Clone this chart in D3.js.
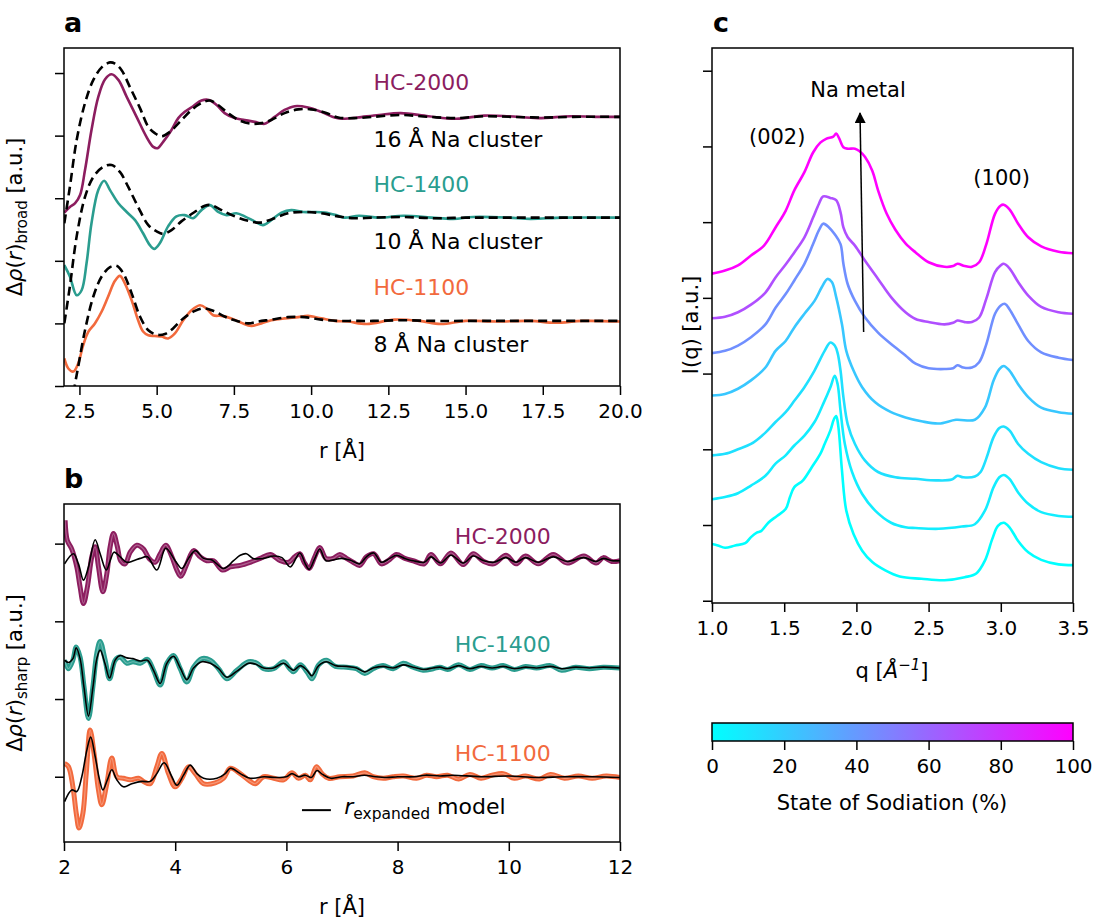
<!DOCTYPE html>
<html>
<head>
<meta charset="utf-8">
<script src="https://cdn.jsdelivr.net/npm/d3@7"></script>
<style>
  body { margin: 0; background: #fff; }
  svg { font-family: "DejaVu Sans", sans-serif; }
</style>
</head>
<body>
<svg id="fig" width="1095" height="919"></svg>
<script>
'use strict';

// colours of the three carbons
var purple = '#8c1d5f';
var teal = '#2a9d8f';
var orange = '#f26a3d';

// ---------- panel a : broad component ----------
var aXTicks = [2.5, 5, 7.5, 10, 12.5, 15, 17.5, 20];
var aYTicks = [0, 1, 2, 3, 4, 5];

var hc2000Broad = [[2.01,2.77],[2.19,2.86],[2.36,2.92],[2.52,3.05],[2.68,3.45],[2.89,4.09],[3.11,4.62],[3.33,4.90],[3.54,4.98],[3.76,4.89],[4.03,4.62],[4.35,4.30],[4.67,3.98],[4.89,3.82],[5.03,3.80],[5.21,3.90],[5.48,4.09],[5.70,4.28],[5.91,4.38],[6.18,4.47],[6.45,4.56],[6.69,4.57],[6.94,4.49],[7.20,4.36],[7.53,4.28],[7.85,4.25],[8.17,4.22],[8.50,4.19],[8.82,4.30],[9.14,4.41],[9.47,4.47],[9.90,4.45],[10.33,4.38],[10.76,4.29],[11.08,4.27],[11.5,4.29],[12.2,4.33],[12.9,4.36],[13.8,4.31],[14.7,4.27],[15.6,4.32],[16.4,4.31],[17.35,4.28],[18.4,4.31],[19.2,4.30],[20,4.30]];
var na16 = [[2.01,2.60],[2.19,3.18],[2.41,3.93],[2.68,4.52],[2.95,4.89],[3.22,5.09],[3.49,5.17],[3.65,5.15],[3.86,5.05],[4.13,4.78],[4.46,4.44],[4.73,4.14],[4.94,4.04],[5.16,3.99],[5.43,4.06],[5.75,4.22],[6.13,4.41],[6.45,4.52],[6.72,4.56],[6.99,4.49],[7.31,4.36],[7.69,4.24],[8.07,4.19],[8.39,4.20],[8.71,4.25],[9.14,4.36],[9.58,4.42],[10.0,4.42],[10.44,4.37],[10.87,4.29],[11.4,4.28],[12.0,4.30],[12.9,4.33],[13.8,4.30],[14.7,4.28],[15.6,4.31],[16.5,4.30],[17.5,4.29],[18.5,4.30],[20,4.30]];

var hc1400Broad = [[2.01,1.93],[2.19,1.75],[2.41,1.45],[2.57,1.53],[2.73,1.96],[2.89,2.60],[3.11,3.13],[3.30,3.28],[3.49,3.13],[3.76,2.92],[4.03,2.78],[4.30,2.65],[4.56,2.44],[4.78,2.25],[4.92,2.19],[5.10,2.28],[5.37,2.55],[5.64,2.71],[5.91,2.73],[6.18,2.68],[6.45,2.81],[6.72,2.89],[6.99,2.78],[7.26,2.73],[7.58,2.76],[7.85,2.71],[8.17,2.63],[8.44,2.57],[8.71,2.65],[9.04,2.77],[9.36,2.81],[9.74,2.78],[10.11,2.78],[10.44,2.77],[10.81,2.73],[11.08,2.69],[11.55,2.72],[12.2,2.69],[13.0,2.72],[13.9,2.69],[14.6,2.67],[15.25,2.70],[16.4,2.69],[17.1,2.67],[18.15,2.69],[20,2.69]];
var na10 = [[2.01,1.00],[2.19,1.59],[2.41,2.39],[2.68,3.02],[2.95,3.34],[3.27,3.50],[3.54,3.53],[3.81,3.42],[4.08,3.18],[4.40,2.86],[4.73,2.57],[5.00,2.47],[5.21,2.43],[5.48,2.49],[5.80,2.63],[6.23,2.78],[6.56,2.88],[6.77,2.89],[7.10,2.81],[7.53,2.71],[7.96,2.64],[8.34,2.61],[8.71,2.66],[9.25,2.76],[9.79,2.78],[10.33,2.76],[10.87,2.71],[11.4,2.68],[12,2.69],[13,2.70],[14,2.68],[15,2.69],[16,2.69],[20,2.69]];

var hc1100Broad = [[2.01,0.44],[2.14,0.28],[2.30,0.23],[2.46,0.36],[2.62,0.65],[2.79,0.87],[3.00,1.00],[3.22,1.19],[3.43,1.43],[3.65,1.68],[3.81,1.76],[3.97,1.64],[4.19,1.37],[4.40,1.05],[4.56,0.87],[4.73,0.81],[4.94,0.80],[5.16,0.79],[5.37,0.76],[5.59,0.84],[5.86,1.05],[6.13,1.21],[6.40,1.29],[6.61,1.24],[6.83,1.13],[7.10,1.12],[7.42,1.08],[7.74,1.01],[8.07,0.96],[8.39,1.00],[8.71,1.05],[9.14,1.08],[9.58,1.10],[9.90,1.12],[10.33,1.08],[10.76,1.04],[11.19,1.03],[11.8,0.99],[12.7,1.06],[13.5,1.04],[14.2,0.99],[15.0,1.04],[16.0,1.03],[17.1,1.04],[17.9,1.01],[18.8,1.04],[20,1.03]];
var na8 = [[2.0,-1.0],[2.2,-0.45],[2.36,0.04],[2.46,0.31],[2.68,0.89],[2.95,1.43],[3.22,1.75],[3.49,1.90],[3.70,1.92],[3.92,1.80],[4.19,1.48],[4.46,1.11],[4.73,0.89],[5.00,0.82],[5.27,0.83],[5.53,0.92],[5.86,1.08],[6.24,1.20],[6.56,1.24],[6.88,1.19],[7.20,1.11],[7.53,1.05],[7.96,1.00],[8.28,1.03],[8.71,1.06],[9.25,1.10],[9.79,1.10],[10.33,1.06],[10.87,1.04],[11.4,1.04],[12,1.04],[13,1.05],[14,1.04],[15,1.04],[20,1.04]];

// ---------- panel b : sharp component ----------
var bXTicks = [2, 4, 6, 8, 10, 12];
var bYTicks = [0, 1, 2, 3];

var hc2000Sharp = [[2.02,3.30],[2.06,3.04],[2.14,2.93],[2.23,2.70],[2.29,2.44],[2.35,2.23],[2.42,2.44],[2.50,2.83],[2.56,2.96],[2.62,2.70],[2.70,2.38],[2.77,2.61],[2.83,2.96],[2.89,3.13],[2.96,2.96],[3.02,2.78],[3.10,2.74],[3.19,2.89],[3.31,2.98],[3.43,2.93],[3.53,2.81],[3.64,2.76],[3.73,2.87],[3.83,2.98],[3.94,2.83],[4.03,2.66],[4.10,2.58],[4.21,2.74],[4.33,2.91],[4.45,2.83],[4.57,2.78],[4.69,2.78],[4.85,2.66],[4.99,2.70],[5.17,2.72],[5.35,2.76],[5.53,2.81],[5.71,2.86],[5.89,2.78],[6.04,2.76],[6.15,2.83],[6.24,2.87],[6.32,2.76],[6.41,2.68],[6.51,2.83],[6.60,2.95],[6.71,2.81],[6.84,2.81],[6.96,2.86],[7.08,2.81],[7.20,2.76],[7.32,2.72],[7.44,2.83],[7.57,2.87],[7.71,2.74],[7.83,2.78],[7.98,2.86],[8.13,2.81],[8.28,2.78],[8.48,2.74],[8.60,2.86],[8.77,2.74],[8.96,2.88],[9.18,2.73],[9.36,2.87],[9.55,2.77],[9.73,2.74],[9.95,2.85],[10.13,2.74],[10.30,2.84],[10.53,2.74],[10.80,2.86],[11.05,2.75],[11.35,2.84],[11.57,2.75],[11.70,2.82],[11.85,2.77],[12.0,2.78]];
var hc2000Model = [[2.01,2.74],[2.17,2.87],[2.26,2.74],[2.35,2.53],[2.44,2.70],[2.56,3.05],[2.65,2.87],[2.76,2.66],[2.83,2.78],[2.90,2.89],[3.01,2.83],[3.13,2.76],[3.25,2.78],[3.37,2.81],[3.50,2.83],[3.67,2.66],[3.83,2.94],[4.00,2.78],[4.12,2.68],[4.24,2.81],[4.36,2.91],[4.51,2.81],[4.66,2.79],[4.87,2.68],[5.05,2.78],[5.17,2.85],[5.28,2.87],[5.40,2.81],[5.59,2.81],[5.77,2.84],[5.92,2.82],[6.07,2.70],[6.24,2.88],[6.34,2.74],[6.41,2.67],[6.51,2.81],[6.60,2.93],[6.71,2.78],[6.84,2.79],[6.99,2.81],[7.14,2.79],[7.32,2.74],[7.44,2.83],[7.57,2.88],[7.71,2.76],[7.86,2.81],[7.98,2.85],[8.13,2.81],[8.28,2.78],[8.48,2.76],[8.60,2.83],[8.77,2.75],[8.96,2.85],[9.18,2.75],[9.36,2.84],[9.55,2.78],[9.73,2.76],[9.95,2.82],[10.13,2.76],[10.30,2.82],[10.53,2.76],[10.80,2.83],[11.05,2.77],[11.35,2.82],[11.57,2.77],[11.70,2.81],[11.85,2.78],[12.0,2.78]];

var hc1400Sharp = [[2.01,1.50],[2.08,1.39],[2.16,1.50],[2.22,1.67],[2.29,1.54],[2.36,1.16],[2.44,0.75],[2.52,1.16],[2.59,1.59],[2.65,1.74],[2.74,1.50],[2.82,1.26],[2.92,1.50],[3.01,1.54],[3.13,1.46],[3.24,1.48],[3.37,1.46],[3.50,1.51],[3.61,1.37],[3.73,1.18],[3.85,1.46],[3.97,1.56],[4.09,1.39],[4.21,1.22],[4.33,1.41],[4.48,1.52],[4.63,1.50],[4.78,1.39],[4.93,1.26],[5.11,1.37],[5.32,1.48],[5.47,1.46],[5.59,1.39],[5.77,1.39],[5.95,1.48],[6.06,1.39],[6.13,1.35],[6.25,1.44],[6.37,1.35],[6.46,1.26],[6.58,1.44],[6.72,1.50],[6.88,1.42],[7.08,1.41],[7.26,1.39],[7.41,1.33],[7.56,1.39],[7.74,1.43],[7.92,1.39],[8.10,1.46],[8.28,1.41],[8.46,1.37],[8.64,1.39],[8.76,1.41],[8.90,1.38],[9.10,1.44],[9.30,1.38],[9.50,1.43],[9.70,1.40],[9.90,1.43],[10.10,1.38],[10.30,1.42],[10.50,1.40],[10.75,1.43],[10.95,1.37],[11.20,1.41],[11.45,1.39],[11.70,1.41],[12.0,1.40]];
var hc1400Model = [[2.01,1.50],[2.08,1.47],[2.16,1.52],[2.22,1.66],[2.29,1.52],[2.36,1.15],[2.44,0.78],[2.52,1.15],[2.59,1.52],[2.65,1.63],[2.74,1.45],[2.82,1.27],[2.92,1.50],[3.01,1.56],[3.13,1.53],[3.24,1.52],[3.37,1.49],[3.50,1.50],[3.61,1.37],[3.73,1.20],[3.85,1.46],[3.97,1.55],[4.09,1.40],[4.21,1.25],[4.33,1.40],[4.48,1.48],[4.63,1.46],[4.78,1.39],[4.93,1.28],[5.11,1.36],[5.32,1.46],[5.44,1.45],[5.59,1.40],[5.77,1.40],[5.95,1.46],[6.06,1.40],[6.13,1.37],[6.25,1.43],[6.37,1.37],[6.46,1.30],[6.58,1.43],[6.72,1.48],[6.88,1.43],[7.08,1.42],[7.26,1.40],[7.41,1.35],[7.56,1.40],[7.74,1.42],[7.92,1.40],[8.10,1.44],[8.28,1.41],[8.46,1.38],[8.64,1.40],[8.76,1.41],[8.90,1.39],[9.10,1.43],[9.30,1.39],[9.50,1.42],[9.70,1.40],[9.90,1.42],[10.10,1.39],[10.30,1.41],[10.50,1.40],[10.75,1.42],[10.95,1.39],[11.20,1.41],[11.45,1.40],[11.70,1.41],[12.0,1.40]];

var hc1100Sharp = [[2.01,0.17],[2.08,0.13],[2.16,-0.13],[2.22,-0.47],[2.27,-0.66],[2.34,-0.47],[2.40,0.04],[2.47,0.60],[2.54,0.30],[2.62,-0.17],[2.68,-0.36],[2.77,-0.09],[2.86,0.24],[2.95,0.00],[3.07,-0.02],[3.19,-0.04],[3.34,-0.02],[3.43,-0.06],[3.55,-0.09],[3.67,0.13],[3.76,0.30],[3.88,0.04],[4.00,-0.13],[4.12,-0.02],[4.24,0.13],[4.36,0.04],[4.51,-0.09],[4.72,-0.08],[4.87,-0.02],[4.99,0.11],[5.17,0.04],[5.35,-0.06],[5.44,-0.09],[5.59,0.00],[5.77,-0.02],[5.95,-0.04],[6.10,0.05],[6.22,-0.02],[6.34,0.02],[6.43,-0.04],[6.54,0.13],[6.64,0.04],[6.76,-0.02],[6.96,0.00],[7.20,0.01],[7.41,0.05],[7.56,0.00],[7.74,-0.02],[7.92,0.00],[8.10,0.01],[8.34,-0.02],[8.52,0.02],[8.70,0.00],[8.90,0.02],[9.10,-0.03],[9.30,0.03],[9.50,-0.02],[9.70,0.02],[9.90,0.04],[10.10,-0.02],[10.30,0.01],[10.55,-0.03],[10.75,0.03],[11.00,-0.02],[11.25,0.01],[11.50,-0.02],[11.75,0.01],[12.0,-0.01]];
var hc1100Model = [[2.01,-0.32],[2.14,-0.17],[2.23,-0.19],[2.32,0.00],[2.41,0.34],[2.48,0.51],[2.56,0.26],[2.64,-0.04],[2.70,-0.17],[2.78,-0.04],[2.86,0.09],[2.95,-0.04],[3.07,-0.13],[3.22,-0.09],[3.40,-0.06],[3.55,-0.06],[3.67,0.04],[3.80,0.18],[3.94,0.00],[4.03,-0.11],[4.15,0.02],[4.27,0.15],[4.39,0.04],[4.51,-0.02],[4.75,-0.02],[4.90,0.04],[4.99,0.11],[5.17,0.04],[5.35,-0.02],[5.60,0.00],[5.80,-0.01],[6.00,0.00],[6.10,0.04],[6.22,0.00],[6.34,0.02],[6.45,-0.01],[6.55,0.08],[6.65,0.03],[6.80,-0.02],[7.00,0.00],[7.20,0.00],[7.40,0.02],[7.60,0.00],[7.80,-0.01],[8.00,0.00],[8.30,0.00],[8.50,0.02],[8.76,0.01],[9.00,0.02],[9.50,0.00],[10.0,0.01],[10.5,-0.01],[11.0,0.00],[11.5,0.00],[12.0,-0.01]];

// ---------- panel c : I(q) during sodiation ----------
var cXTicks = [1.0, 1.5, 2.0, 2.5, 3.0, 3.5];
var cYTicks = [0, 1, 2, 3, 4, 5, 6, 7];
var sodLevels = [0, 7, 12, 22, 44, 69, 100];
var cbTicks = [0, 20, 40, 60, 80, 100];

var iq0 = [[1.0,0.75],[1.04,0.73],[1.09,0.70],[1.16,0.73],[1.23,0.76],[1.27,0.84],[1.31,0.90],[1.34,0.92],[1.39,1.03],[1.45,1.12],[1.51,1.21],[1.54,1.37],[1.57,1.50],[1.63,1.59],[1.69,1.76],[1.75,1.94],[1.78,2.07],[1.82,2.25],[1.845,2.40],[1.86,2.44],[1.875,2.30],[1.90,1.72],[1.93,1.19],[1.98,0.88],[2.04,0.66],[2.11,0.51],[2.20,0.40],[2.30,0.32],[2.45,0.29],[2.61,0.27],[2.75,0.31],[2.83,0.36],[2.89,0.53],[2.94,0.81],[2.98,0.99],[3.02,1.03],[3.06,0.97],[3.12,0.79],[3.19,0.64],[3.28,0.54],[3.40,0.48],[3.50,0.47]];
var iq1 = [[1.0,1.34],[1.09,1.37],[1.18,1.42],[1.27,1.52],[1.37,1.65],[1.44,1.81],[1.51,1.92],[1.57,2.05],[1.64,2.18],[1.71,2.36],[1.77,2.60],[1.82,2.82],[1.85,2.97],[1.87,2.86],[1.89,2.51],[1.92,2.07],[1.97,1.70],[2.04,1.41],[2.13,1.19],[2.24,1.03],[2.34,0.97],[2.41,0.96],[2.57,0.95],[2.73,0.98],[2.82,1.01],[2.89,1.19],[2.95,1.50],[2.99,1.63],[3.02,1.66],[3.06,1.61],[3.12,1.43],[3.19,1.28],[3.28,1.17],[3.40,1.12],[3.50,1.11]];
var iq2 = [[1.0,1.92],[1.09,1.94],[1.18,2.00],[1.27,2.07],[1.37,2.22],[1.44,2.36],[1.51,2.49],[1.57,2.64],[1.64,2.82],[1.71,3.04],[1.78,3.30],[1.82,3.41],[1.85,3.37],[1.87,3.27],[1.89,3.04],[1.91,2.69],[1.94,2.33],[1.99,2.07],[2.06,1.85],[2.15,1.70],[2.27,1.63],[2.41,1.61],[2.55,1.59],[2.66,1.60],[2.70,1.65],[2.74,1.63],[2.82,1.64],[2.86,1.70],[2.90,1.88],[2.95,2.16],[2.99,2.28],[3.02,2.30],[3.06,2.25],[3.12,2.07],[3.19,1.94],[3.28,1.83],[3.40,1.75],[3.50,1.73]];
var iq3 = [[1.0,2.71],[1.09,2.73],[1.18,2.80],[1.27,2.91],[1.37,3.08],[1.44,3.30],[1.51,3.43],[1.57,3.61],[1.64,3.79],[1.71,3.96],[1.76,4.14],[1.80,4.25],[1.83,4.21],[1.86,4.01],[1.90,3.65],[1.93,3.30],[1.98,3.04],[2.04,2.82],[2.13,2.62],[2.24,2.49],[2.34,2.42],[2.45,2.37],[2.57,2.34],[2.69,2.39],[2.82,2.39],[2.89,2.55],[2.95,2.91],[2.99,3.06],[3.02,3.10],[3.06,3.04],[3.12,2.86],[3.19,2.69],[3.28,2.55],[3.40,2.49],[3.50,2.47]];
var iq4 = [[1.0,3.27],[1.09,3.30],[1.18,3.37],[1.27,3.48],[1.37,3.65],[1.44,3.87],[1.51,4.05],[1.57,4.23],[1.64,4.45],[1.70,4.71],[1.74,4.89],[1.77,4.98],[1.81,4.93],[1.85,4.84],[1.89,4.71],[1.91,4.45],[1.94,4.18],[1.99,3.96],[2.06,3.74],[2.15,3.54],[2.24,3.39],[2.34,3.24],[2.41,3.13],[2.50,3.07],[2.61,3.06],[2.67,3.07],[2.70,3.11],[2.74,3.08],[2.80,3.08],[2.85,3.15],[2.90,3.39],[2.96,3.79],[3.00,3.90],[3.03,3.92],[3.06,3.85],[3.12,3.65],[3.19,3.43],[3.28,3.28],[3.40,3.21],[3.50,3.18]];
var iq5 = [[1.0,3.73],[1.09,3.75],[1.18,3.81],[1.27,3.91],[1.37,4.07],[1.44,4.27],[1.51,4.44],[1.57,4.60],[1.64,4.80],[1.70,5.06],[1.74,5.24],[1.77,5.34],[1.82,5.32],[1.86,5.29],[1.89,5.13],[1.91,4.93],[1.94,4.80],[1.99,4.69],[2.06,4.49],[2.15,4.25],[2.24,4.01],[2.34,3.81],[2.41,3.72],[2.50,3.68],[2.61,3.65],[2.67,3.67],[2.70,3.70],[2.75,3.68],[2.80,3.68],[2.85,3.74],[2.90,3.99],[2.96,4.34],[3.00,4.43],[3.02,4.45],[3.06,4.39],[3.12,4.21],[3.19,4.03],[3.28,3.88],[3.40,3.81],[3.50,3.79]];
var iq6 = [[1.0,4.32],[1.09,4.36],[1.18,4.43],[1.27,4.56],[1.36,4.69],[1.44,4.93],[1.51,5.15],[1.57,5.42],[1.64,5.66],[1.70,5.92],[1.75,6.05],[1.79,6.10],[1.84,6.13],[1.86,6.17],[1.88,6.11],[1.91,5.99],[1.94,5.97],[1.99,5.97],[2.02,5.94],[2.06,5.86],[2.11,5.68],[2.15,5.42],[2.21,5.11],[2.27,4.90],[2.34,4.72],[2.41,4.60],[2.50,4.47],[2.61,4.41],[2.67,4.42],[2.70,4.45],[2.75,4.42],[2.80,4.41],[2.85,4.47],[2.90,4.71],[2.96,5.11],[3.00,5.22],[3.02,5.23],[3.06,5.17],[3.12,4.98],[3.19,4.80],[3.28,4.68],[3.40,4.61],[3.50,4.59]];
var iqCurves = [iq0, iq1, iq2, iq3, iq4, iq5, iq6];
var naArrow = [[2.05, 3.55], [2.025, 6.44]];

var svg = d3.select('#fig');

var defs = svg.append('defs');

function clip(id, x, y) {
    defs.append('clipPath').attr('id', id)
        .append('rect')
        .attr('x', x.range()[0]).attr('y', y.range()[1])
        .attr('width', x.range()[1] - x.range()[0])
        .attr('height', y.range()[0] - y.range()[1]);
}

// axes box + ticks, no y labels (arbitrary units)
function frame(x, y, xTicks, fmt, yTicks) {
    var bottom = y.range()[0];
    var left = x.range()[0];

    var gx = svg.append('g')
        .attr('transform', 'translate(0,' + bottom + ')')
        .call(d3.axisBottom(x).tickValues(xTicks).tickFormat(fmt).tickSize(9).tickPadding(9).tickSizeOuter(0));
    var gy = svg.append('g')
        .attr('transform', 'translate(' + left + ',0)')
        .call(d3.axisLeft(y).tickValues(yTicks).tickFormat('').tickSize(9).tickSizeOuter(0));

    [gx, gy].forEach(function(g) {
        g.select('.domain').remove();
        g.selectAll('line').attr('stroke', '#000').attr('stroke-width', 1.5);
        g.selectAll('text').attr('font-size', 20).attr('font-family', '"DejaVu Sans", sans-serif').attr('fill', '#000');
    });

    svg.append('rect')
        .attr('x', left).attr('y', y.range()[1])
        .attr('width', x.range()[1] - left)
        .attr('height', bottom - y.range()[1])
        .attr('fill', 'none').attr('stroke', '#000').attr('stroke-width', 1.5);
}

function lineFor(x, y) {
    return d3.line()
        .x(function(d) { return x(d[0]); })
        .y(function(d) { return y(d[1]); })
        .curve(d3.curveCatmullRom.alpha(0.5));
}

function yLabel(cx, cy, sub) {
    var t = svg.append('text')
        .attr('transform', 'translate(' + cx + ',' + cy + ') rotate(-90)')
        .attr('text-anchor', 'middle')
        .attr('font-size', 21);
    t.append('tspan').text('Δ');
    t.append('tspan').attr('font-style', 'italic').text('ρ');
    t.append('tspan').text('(');
    t.append('tspan').attr('font-style', 'italic').text('r');
    t.append('tspan').text(')');
    t.append('tspan').attr('font-size', 15).attr('dy', 5).text(sub);
    t.append('tspan').attr('dy', -5).text(' [a.u.]');
}

function panelLetter(x, y, s) {
    svg.append('text').attr('x', x).attr('y', y)
        .attr('font-size', 27).attr('font-weight', 'bold').text(s);
}

// ===== panel a =====
var xa = d3.scaleLinear().domain([2, 20]).range([64, 620]);
var ya = d3.scaleLinear().domain([0, 5.4]).range([386, 48]);
clip('clipA', xa, ya);
var lineA = lineFor(xa, ya);

var gA = svg.append('g').attr('clip-path', 'url(#clipA)');
[[hc2000Broad, purple], [hc1400Broad, teal], [hc1100Broad, orange]].forEach(function(s) {
    gA.append('path').datum(s[0]).attr('d', lineA)
        .attr('fill', 'none').attr('stroke', s[1]).attr('stroke-width', 2.6);
});
[na16, na10, na8].forEach(function(s) {
    gA.append('path').datum(s).attr('d', lineA)
        .attr('fill', 'none').attr('stroke', '#000').attr('stroke-width', 2.6)
        .attr('stroke-dasharray', '9,5');
});
frame(xa, ya, aXTicks, d3.format('.1f'), aYTicks);

var aNotes = [
    ['HC-2000', 4.73, purple], ['16 Å Na cluster', 3.82, '#000'],
    ['HC-1400', 3.10, teal], ['10 Å Na cluster', 2.19, '#000'],
    ['HC-1100', 1.45, orange], ['8 Å Na cluster', 0.54, '#000']
];
aNotes.forEach(function(n) {
    svg.append('text').attr('x', xa(12.02)).attr('y', ya(n[1]))
        .attr('font-size', 22).attr('fill', n[2]).text(n[0]);
});
yLabel(22, 217, 'broad');
svg.append('text').attr('x', 342).attr('y', 458).attr('text-anchor', 'middle')
    .attr('font-size', 21).text('r [Å]');
panelLetter(64, 32, 'a');

// ===== panel b =====
var xb = d3.scaleLinear().domain([2, 12]).range([64, 620]);
var yb = d3.scaleLinear().domain([-0.84, 3.51]).range([842, 504]);
clip('clipB', xb, yb);
var lineB = lineFor(xb, yb);

var gB = svg.append('g').attr('clip-path', 'url(#clipB)');
[[hc2000Sharp, purple], [hc1400Sharp, teal], [hc1100Sharp, orange]].forEach(function(s) {
    gB.append('path').datum(s[0]).attr('d', lineB)
        .attr('fill', 'none').attr('stroke', s[1]).attr('stroke-width', 5);
    gB.append('path').datum(s[0]).attr('d', lineB)
        .attr('fill', 'none').attr('stroke', '#fff').attr('stroke-opacity', 0.3).attr('stroke-width', 1.2);
});
[hc2000Model, hc1400Model, hc1100Model].forEach(function(s) {
    gB.append('path').datum(s).attr('d', lineB)
        .attr('fill', 'none').attr('stroke', '#000').attr('stroke-width', 1.6);
});
frame(xb, yb, bXTicks, d3.format('d'), bYTicks);

[['HC-2000', 3.00, purple], ['HC-1400', 1.61, teal], ['HC-1100', 0.20, orange]].forEach(function(n) {
    svg.append('text').attr('x', xb(9.03)).attr('y', yb(n[1]))
        .attr('font-size', 22).attr('fill', n[2]).text(n[0]);
});
// legend
svg.append('line').attr('x1', xb(6.28)).attr('x2', xb(6.80)).attr('y1', yb(-0.43)).attr('y2', yb(-0.43))
    .attr('stroke', '#000').attr('stroke-width', 2);
var lg = svg.append('text').attr('x', xb(7.04)).attr('y', yb(-0.48)).attr('font-size', 22);
lg.append('tspan').attr('font-style', 'italic').text('r');
lg.append('tspan').attr('font-size', 15.5).attr('dy', 5).text('expanded');
lg.append('tspan').attr('dy', -5).text(' model');

yLabel(22, 673, 'sharp');
svg.append('text').attr('x', 342).attr('y', 914).attr('text-anchor', 'middle')
    .attr('font-size', 21).text('r [Å]');
panelLetter(64, 488, 'b');

// ===== panel c =====
var xc = d3.scaleLinear().domain([1, 3.5]).range([712, 1073]);
var yc = d3.scaleLinear().domain([-0.03, 7.30]).range([603, 48]);
var cool = d3.scaleLinear().domain([0, 100]).range(['#00ffff', '#ff00ff']).interpolate(d3.interpolateRgb);
clip('clipC', xc, yc);
var lineC = lineFor(xc, yc);

var gC = svg.append('g').attr('clip-path', 'url(#clipC)');
iqCurves.forEach(function(s, i) {
    gC.append('path').datum(s).attr('d', lineC)
        .attr('fill', 'none').attr('stroke', cool(sodLevels[i])).attr('stroke-width', 2.6);
});

defs.append('marker').attr('id', 'head')
    .attr('viewBox', '0 0 10 10').attr('refX', 9).attr('refY', 5)
    .attr('markerWidth', 11).attr('markerHeight', 11).attr('orient', 'auto-start-reverse')
    .attr('markerUnits', 'userSpaceOnUse')
    .append('path').attr('d', 'M0,0L10,5L0,10Z').attr('fill', '#000');
svg.append('line')
    .attr('x1', xc(naArrow[0][0])).attr('y1', yc(naArrow[0][1]))
    .attr('x2', xc(naArrow[1][0])).attr('y2', yc(naArrow[1][1]))
    .attr('stroke', '#000').attr('stroke-width', 1.5)
    .attr('marker-end', 'url(#head)');
frame(xc, yc, cXTicks, d3.format('.1f'), cYTicks);

svg.append('text').attr('x', xc(1.68)).attr('y', yc(6.65)).attr('font-size', 21).text('Na metal');
svg.append('text').attr('x', xc(1.256)).attr('y', yc(6.03)).attr('font-size', 21).text('(002)');
svg.append('text').attr('x', xc(2.81)).attr('y', yc(5.49)).attr('font-size', 21).text('(100)');

svg.append('text')
    .attr('transform', 'translate(698,325) rotate(-90)')
    .attr('text-anchor', 'middle').attr('font-size', 21).text('I(q) [a.u.]');
var ql = svg.append('text').attr('x', 892).attr('y', 678).attr('text-anchor', 'middle').attr('font-size', 21);
ql.append('tspan').text('q [');
ql.append('tspan').attr('font-style', 'italic').text('Å');
ql.append('tspan').attr('font-size', 15).attr('dy', -8).attr('font-style', 'italic').text('−1');
ql.append('tspan').attr('dy', 8).text(']');
panelLetter(713, 32, 'c');

// ===== colour bar =====
var xcb = d3.scaleLinear().domain([0, 100]).range([712, 1073]);
var grad = defs.append('linearGradient').attr('id', 'coolGrad');
d3.range(0, 101, 10).forEach(function(v) {
    grad.append('stop').attr('offset', v + '%').attr('stop-color', cool(v));
});
svg.append('rect').attr('x', 712).attr('y', 723).attr('width', 361).attr('height', 18)
    .attr('fill', 'url(#coolGrad)').attr('stroke', '#000').attr('stroke-width', 1.5);
var gcb = svg.append('g').attr('transform', 'translate(0,741)')
    .call(d3.axisBottom(xcb).tickValues(cbTicks).tickSize(9).tickPadding(9).tickSizeOuter(0));
gcb.select('.domain').remove();
gcb.selectAll('line').attr('stroke', '#000').attr('stroke-width', 1.5);
gcb.selectAll('text').attr('font-size', 20).attr('font-family', '"DejaVu Sans", sans-serif').attr('fill', '#000');
svg.append('text').attr('x', 892).attr('y', 810).attr('text-anchor', 'middle')
    .attr('font-size', 21).text('State of Sodiation (%)');
</script>
</body>
</html>
